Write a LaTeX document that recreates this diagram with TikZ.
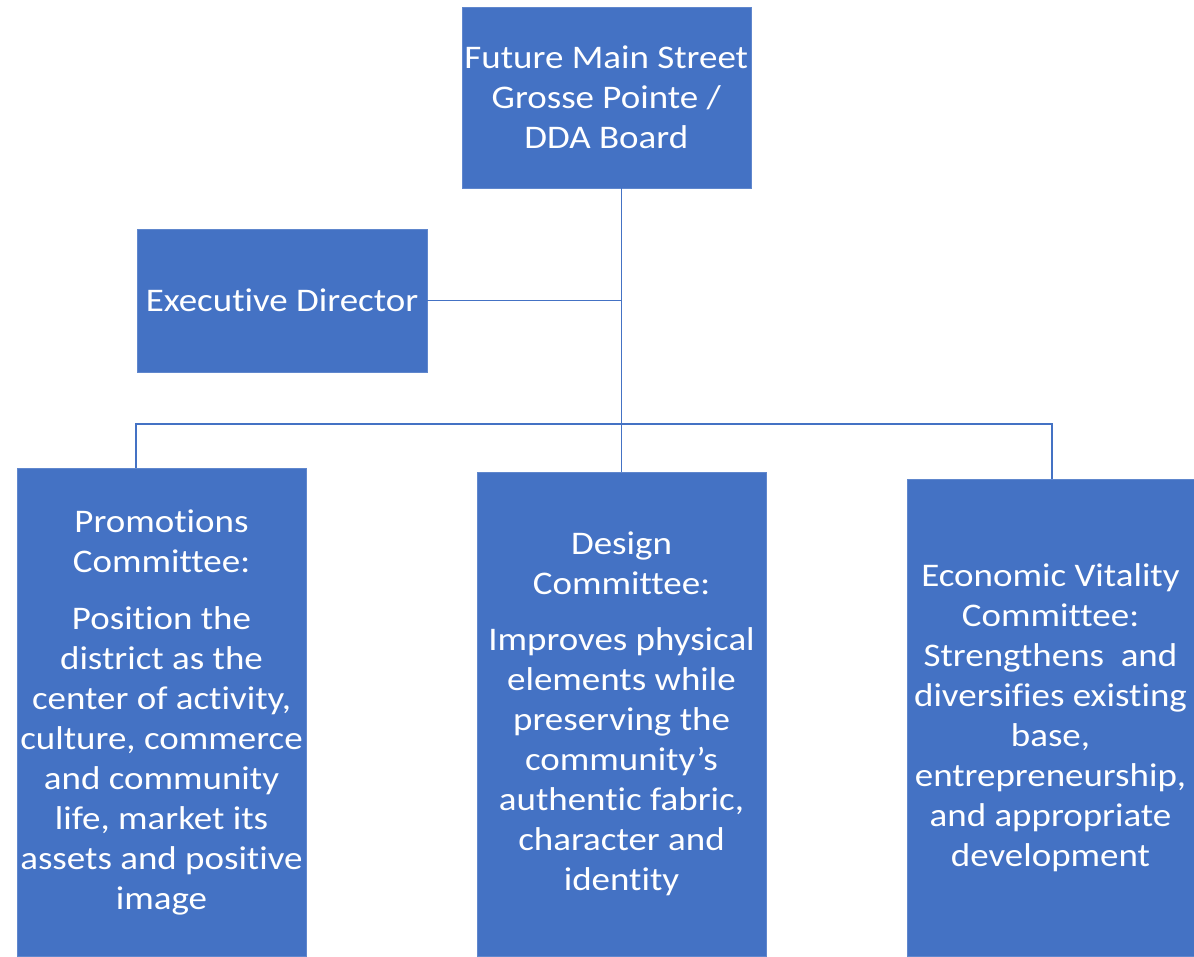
\documentclass[tikz,border=0pt]{standalone}
\usepackage{fontspec}
\setmainfont{Carlito}[FakeStretch=1.12, RawFeature={-liga}]
\definecolor{offblue}{HTML}{4472C4}
\begin{document}
\begin{tikzpicture}[x=1pt,y=-1pt,
  box/.style={fill=offblue, draw=offblue!85!white, line width=0.6pt, inner sep=0pt, text=white, align=center,
    font=\fontsize{33}{40}\selectfont},
  conn/.style={draw=offblue, line width=1.1pt}]
\useasboundingbox (0,0) rectangle (1194,956);
\node[box, minimum width=289, minimum height=181] (top) at (606.3,97.5)
  {Future Main Street\\Grosse Pointe /\\DDA Board};
\node[box, minimum width=290, minimum height=143] (exec) at (282,300.5)
  {Executive Director};
\node[box, minimum width=289, minimum height=488] (promo) at (161.5,712)
  {Promotions\\Committee:\\[17pt]Position the\\district as the\\center of activity,\\culture, commerce\\and community\\life, market its\\assets and positive\\image};
\node[box, minimum width=289, minimum height=484] (design) at (621.5,714)
  {Design\\Committee:\\[16pt]Improves physical\\elements while\\preserving the\\community’s\\authentic fabric,\\character and\\identity};
\node[box, minimum width=287, minimum height=477] (econ) at (1050.5,717.5)
  {Economic Vitality\\Committee:\\Strengthens\ \ and\\diversifies existing\\base,\\entrepreneurship,\\and appropriate\\development};
\coordinate (busL) at (136,424);
\coordinate (busR) at (1052,424);
\draw[conn] (design.north) -- (design.north |- top.south);
\draw[conn] (exec.east) -- (exec.east -| design.north);
\draw[conn] (promo.north -| busL) -- (busL) -- (busR) -- (econ.north -| busR);
\end{tikzpicture}
\end{document}
